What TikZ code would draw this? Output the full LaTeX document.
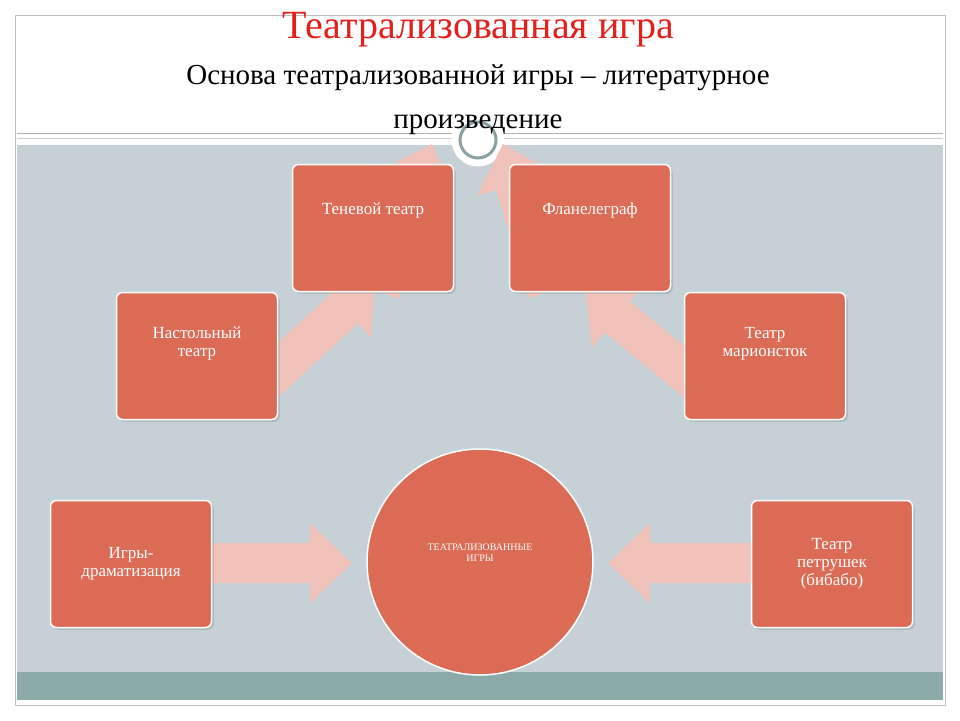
\documentclass[tikz,border=0pt]{standalone}
\usepackage{fontspec}
\setmainfont{Liberation Serif}
\usetikzlibrary{shadows}
\definecolor{boxc}{HTML}{DC6B55}
\definecolor{arrc}{HTML}{F0C2B9}
\definecolor{bgc}{HTML}{C5D1D7}
\definecolor{stripc}{HTML}{8CAAA9}
\definecolor{titlec}{HTML}{E0211E}
\newcommand{\blockarr}[4]{%
  \pgfmathsetmacro\ang{atan2(#4-#2,#3-#1)}%
  \pgfmathsetmacro\len{veclen(#3-#1,#4-#2)}%
  \begin{scope}[shift={(#1,#2)},rotate=\ang]
    \fill[arrc] (0,-20) -- (\len-42,-20) -- (\len-42,-40) -- (\len,0) -- (\len-42,40) -- (\len-42,20) -- (0,20) -- cycle;
  \end{scope}}
\begin{document}
\begin{tikzpicture}[x=1pt,y=-1pt,
  box/.style={draw=white,line width=1.5pt,fill=boxc,rounded corners=6pt,minimum width=161pt,minimum height=127pt,text=white,align=center,font=\fontsize{17}{18}\selectfont,drop shadow={opacity=0.3}},
  ]
\useasboundingbox (0,0) rectangle (960,720);
\fill[white] (0,0) rectangle (960,720);
\draw[gray!50] (15,15) rectangle (945,705);
\fill[bgc] (17,145) rectangle (943,672);
\fill[stripc] (17,672) rectangle (943,700);
\draw[gray!60] (17,133) -- (943,133);
\draw[gray!40] (17,138) -- (943,138);
\draw[white,line width=5pt,fill=white] (478,140) circle (24);
\draw[stripc!80!gray,line width=3pt] (478,140) circle (18);
\node[text=titlec,font=\fontsize{40}{40}\selectfont] (title) at (478,30) {Театрализованная игра};
\node[font=\fontsize{29}{44}\selectfont,align=center] (sub) at (478,100) {Основа театрализованной игры – литературное\\произведение};
\blockarr{212}{563}{352}{563}
\blockarr{752}{563}{608}{563}
\blockarr{262}{385}{375}{490}
\blockarr{700}{385}{585}{480}
\blockarr{380}{292}{432}{440}
\blockarr{548}{292}{503}{440}
\node[box] (a) at (373,228) {Теневой театр\\[20pt]};
\node[box] (b) at (590,228) {Фланелеграф\\[20pt]};
\node[box] (c) at (197,356) {Настольный\\театр\\[10pt]};
\node[box] (d) at (765,356) {Театр\\марионсток\\[10pt]};
\node[box] (e) at (131,564) {Игры-\\драматизация};
\node[box] (f) at (832,564) {Театр\\петрушек\\(бибабо)};
\node[circle,draw=white,line width=1.5pt,fill=boxc,minimum size=226pt,text=white,align=center,font=\fontsize{10}{11}\selectfont] (g) at (480,562) {ТЕАТРАЛИЗОВАННЫЕ\\ИГРЫ\\[8pt]};
\end{tikzpicture}
\end{document}
